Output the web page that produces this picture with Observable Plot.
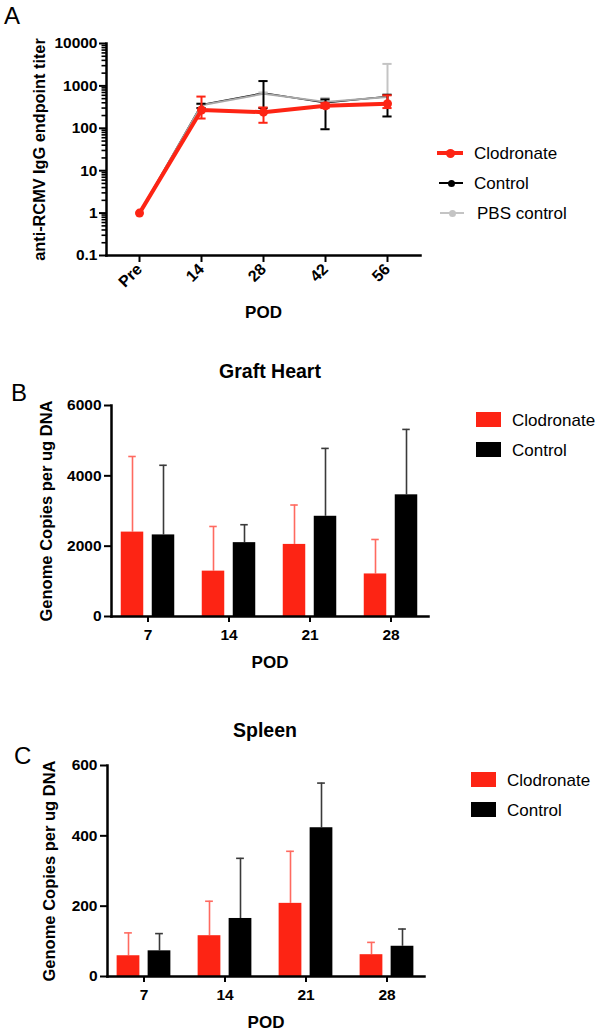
<!DOCTYPE html>
<html><head><meta charset="utf-8">
<script src="https://cdn.jsdelivr.net/npm/d3@7"></script>
<script src="https://cdn.jsdelivr.net/npm/@observablehq/plot@0.6"></script>
<style>
body{margin:0;background:#fff;}
#root{position:relative;width:600px;height:1034px;font-family:"Liberation Sans",Arial,Helvetica,sans-serif;overflow:hidden;background:#fff}
.panel{position:absolute;left:0;width:600px}
.panel svg{max-width:none;}
.abs{position:absolute;white-space:nowrap;color:#000;line-height:1}
.ctr{transform:translate(-50%,-50%)}
.mid{transform:translateY(-50%)}
.letter{font-size:24px}
.title{font-size:19.5px;font-weight:bold}
.leg{font-size:17px}
</style></head><body><div id="root"></div>
<script>
// ---------- Panel A data ----------
const podA = ["Pre", "14", "28", "42", "56"];
const clodA   = [1, 270, 240, 340, 380];
const clodALo = [null, 170, 135, 300, 300];
const clodAHi = [null, 560, 310, 390, 600];
const ctrlA   = [1, 360, 680, 400, 560];
const ctrlALo = [null, 300, 300, 95, 190];
const ctrlAHi = [null, 380, 1300, 480, 620];
const pbsA    = [1, 350, 650, 420, 550];
const pbsALo  = [null, 350, 650, 420, 550];
const pbsAHi  = [null, 370, 700, 520, 3300];
const yTicksA = [0.1, 1, 10, 100, 1000, 10000];
const seriesA = ["Clodronate", "Control", "PBS control"];

// ---------- Panel B data (Graft Heart) ----------
const podB = ["7", "14", "21", "28"];
const heartClod    = [2400, 1290, 2050, 1210];
const heartClodErr = [4550, 2560, 3170, 2190];
const heartCtrl    = [2320, 2100, 2850, 3460];
const heartCtrlErr = [4300, 2610, 4780, 5320];
const yTicksB = [0, 2000, 4000, 6000];

// ---------- Panel C data (Spleen) ----------
const spleenClod    = [59, 116, 208, 62];
const spleenClodErr = [124, 214, 356, 97];
const spleenCtrl    = [73, 165, 423, 86];
const spleenCtrlErr = [122, 336, 550, 135];
const yTicksC = [0, 200, 400, 600];
const seriesBar = ["Clodronate", "Control"];

// ---------- styles ----------
const RED = "#fd2414";
const RED_ERR = "#ff6a60";
const BLACK = "#000";
const BLACK_ERR = "#3a3a3a";
const GREY = "#a9a9a9";
const GREY_ERR = "#c4c4c4";
const FONT = "'Liberation Sans', Arial, Helvetica, sans-serif";

const root = document.getElementById("root");
function addPanel(svg, top) {
  const d = document.createElement("div");
  d.className = "panel";
  d.style.top = top + "px";
  d.appendChild(svg);
  root.appendChild(d);
}
function addText(txt, cls, x, y, extra) {
  const d = document.createElement("div");
  d.className = "abs " + cls;
  d.textContent = txt;
  d.style.left = x + "px";
  d.style.top = y + "px";
  if (extra) Object.assign(d.style, extra);
  root.appendChild(d);
  return d;
}
function addBox(x, y, w, h, bg, extra) {
  const d = document.createElement("div");
  d.className = "abs";
  Object.assign(d.style, {left: x + "px", top: y + "px", width: w + "px", height: h + "px", background: bg}, extra || {});
  root.appendChild(d);
}

// ================= Panel A =================
const rowsA = [];
podA.forEach((p, i) => {
  rowsA.push({series: "Control", pod: p, v: ctrlA[i], lo: ctrlALo[i], hi: ctrlAHi[i]});
  rowsA.push({series: "PBS control", pod: p, v: pbsA[i], lo: pbsALo[i], hi: pbsAHi[i]});
  rowsA.push({series: "Clodronate", pod: p, v: clodA[i], lo: clodALo[i], hi: clodAHi[i]});
});
const sA = s => rowsA.filter(d => d.series === s);
const eA = s => rowsA.filter(d => d.series === s && d.hi != null);
const minorA = d3.range(-1, 4).flatMap(e => d3.range(2, 10).map(k => +(k * Math.pow(10, e)).toPrecision(3)));
const xRangeA = [106, 420];
const bwA = (xRangeA[1] - xRangeA[0]) / podA.length;
const capA = (bwA - 10) / 2;

const plotA = Plot.plot({
  width: 600, height: 340,
  marginLeft: 106, marginRight: 180, marginTop: 43, marginBottom: 85,
  style: {fontFamily: FONT, fontSize: "15.5px", fontWeight: "bold", color: "#000", background: "transparent"},
  x: {type: "band", domain: podA, range: xRangeA, padding: 0},
  y: {type: "log", domain: [0.1, 10000]},
  marks: [
    Plot.axisY({ticks: yTicksA, tickFormat: d => String(d), tickSize: 7, tickPadding: 2, strokeWidth: 2, label: null}),
    Plot.axisY({ticks: minorA, tickFormat: () => "", tickSize: 4.5, strokeWidth: 1.6, label: null}),
    Plot.axisY({ticks: [], label: "anti-RCMV IgG endpoint titer", labelAnchor: "center", labelOffset: 73, labelArrow: "none", fontSize: 16.3}),
    Plot.axisX({tickRotate: -45, tickSize: 7, tickPadding: 4, strokeWidth: 2, label: null, fontSize: 16}),
    Plot.axisX({ticks: [], label: "POD", labelAnchor: "center", labelOffset: 62, labelArrow: "none", fontSize: 17}),
    Plot.frame({anchor: "left", strokeWidth: 2.5}),
    Plot.frame({anchor: "bottom", strokeWidth: 2.5}),
    // Control (black)
    Plot.line(sA("Control"), {x: "pod", y: "v", stroke: BLACK, strokeWidth: 1.5}),
    // PBS control (grey)
    Plot.line(sA("PBS control"), {x: "pod", y: "v", stroke: GREY, strokeWidth: 2}),
    Plot.ruleX(eA("PBS control"), {x: "pod", y1: "lo", y2: "hi", stroke: GREY_ERR, strokeWidth: 2}),
    Plot.tickY(eA("PBS control"), {x: "pod", y: "hi", stroke: GREY_ERR, strokeWidth: 2, insetLeft: capA, insetRight: capA}),
    Plot.ruleX(eA("Control"), {x: "pod", y1: "lo", y2: "hi", stroke: BLACK, strokeWidth: 2}),
    Plot.tickY(eA("Control"), {x: "pod", y: "hi", stroke: BLACK, strokeWidth: 2, insetLeft: capA, insetRight: capA}),
    Plot.tickY(eA("Control"), {x: "pod", y: "lo", stroke: BLACK, strokeWidth: 2, insetLeft: capA, insetRight: capA}),
    // Clodronate (red)
    Plot.line(sA("Clodronate"), {x: "pod", y: "v", stroke: RED, strokeWidth: 4}),
    Plot.ruleX(eA("Clodronate"), {x: "pod", y1: "lo", y2: "hi", stroke: RED, strokeWidth: 2}),
    Plot.tickY(eA("Clodronate"), {x: "pod", y: "hi", stroke: RED, strokeWidth: 2, insetLeft: capA, insetRight: capA}),
    Plot.tickY(eA("Clodronate"), {x: "pod", y: "lo", stroke: RED, strokeWidth: 2, insetLeft: capA, insetRight: capA}),
    Plot.dot(sA("Clodronate"), {x: "pod", y: "v", r: 4.5, fill: RED, stroke: "none"})
  ]
});
addPanel(plotA, 0);

// ================= Bar panels =================
const OFF = 15.5, BARW = 23, CAPW = 8;
function barPanel({pods, clod, clodErr, ctrl, ctrlErr, yDomain, yTicks, xRange, marginLeft, marginRight, marginTop, height, yLabelOffset}) {
  const rows = pods.flatMap((p, i) => [
    {pod: p, s: "Clodronate", v: clod[i], e: clodErr[i]},
    {pod: p, s: "Control", v: ctrl[i], e: ctrlErr[i]}
  ]);
  const R = rows.filter(d => d.s === "Clodronate");
  const K = rows.filter(d => d.s === "Control");
  const bw = (xRange[1] - xRange[0]) / pods.length;
  const bi = (bw - BARW) / 2, ci = (bw - CAPW) / 2;
  const marginBottom = height - marginTop - 211;
  return Plot.plot({
    width: 600, height,
    marginLeft, marginRight, marginTop, marginBottom,
    style: {fontFamily: FONT, fontSize: "15.5px", fontWeight: "bold", color: "#000", background: "transparent"},
    x: {type: "band", domain: pods, range: xRange, padding: 0},
    y: {domain: yDomain},
    marks: [
      Plot.axisY({ticks: yTicks, tickFormat: d => String(d), tickSize: 7, tickPadding: 3, strokeWidth: 2, label: null}),
      Plot.axisY({ticks: [], label: "Genome Copies per ug DNA", labelAnchor: "center", labelOffset: yLabelOffset, labelArrow: "none", fontSize: 16.5}),
      Plot.axisX({tickSize: 6, tickPadding: 6, strokeWidth: 2, label: null}),
      Plot.axisX({ticks: [], label: "POD", labelAnchor: "center", labelOffset: 51, labelArrow: "none", fontSize: 17}),
      Plot.ruleX(R, {x: "pod", y1: "v", y2: "e", stroke: RED_ERR, strokeWidth: 1.6, dx: -OFF}),
      Plot.tickY(R, {x: "pod", y: "e", stroke: RED_ERR, strokeWidth: 1.6, dx: -OFF, insetLeft: ci, insetRight: ci}),
      Plot.ruleX(K, {x: "pod", y1: "v", y2: "e", stroke: BLACK_ERR, strokeWidth: 1.6, dx: OFF}),
      Plot.tickY(K, {x: "pod", y: "e", stroke: BLACK_ERR, strokeWidth: 1.6, dx: OFF, insetLeft: ci, insetRight: ci}),
      Plot.barY(R, {x: "pod", y: "v", fill: RED, dx: -OFF, insetLeft: bi, insetRight: bi}),
      Plot.barY(K, {x: "pod", y: "v", fill: BLACK, dx: OFF, insetLeft: bi, insetRight: bi}),
      Plot.frame({anchor: "left", strokeWidth: 2.5}),
      Plot.frame({anchor: "bottom", strokeWidth: 2.5})
    ]
  });
}

const plotB = barPanel({
  pods: podB, clod: heartClod, clodErr: heartClodErr, ctrl: heartCtrl, ctrlErr: heartCtrlErr,
  yDomain: [0, 6000], yTicks: yTicksB, xRange: [106.25, 432.25],
  marginLeft: 111, marginRight: 172, marginTop: 65, height: 340, yLabelOffset: 71
});
addPanel(plotB, 340);

const plotC = barPanel({
  pods: podB, clod: spleenClod, clodErr: spleenClodErr, ctrl: spleenCtrl, ctrlErr: spleenCtrlErr,
  yDomain: [0, 600], yTicks: yTicksC, xRange: [102.5, 427.5],
  marginLeft: 107, marginRight: 176, marginTop: 85, height: 354, yLabelOffset: 64
});
addPanel(plotC, 680);

// ================= Panel letters & titles =================
addText("A", "letter", 4, 4);
addText("B", "letter", 11, 381);
addText("C", "letter", 14, 744);
addText("Graft Heart", "title ctr", 270, 372);
addText("Spleen", "title ctr", 265, 731);

// ================= Legends =================
const legA = [
  {name: seriesA[0], y: 153, color: RED, lw: 4, r: 4.5, x0: 437, x1: 463, tx: 474},
  {name: seriesA[1], y: 183, color: BLACK, lw: 1.5, r: 3.5, x0: 439, x1: 463, tx: 474},
  {name: seriesA[2], y: 213, color: GREY_ERR, lw: 2, r: 3.5, x0: 440, x1: 464, tx: 477}
];
legA.forEach(l => {
  addBox(l.x0, l.y - l.lw / 2, l.x1 - l.x0, l.lw, l.color);
  const cx = (l.x0 + l.x1) / 2;
  addBox(cx - l.r, l.y - l.r, 2 * l.r, 2 * l.r, l.color, {borderRadius: "50%"});
  addText(l.name, "leg mid", l.tx, l.y);
});
[[RED, 412], [BLACK, 442]].forEach(([c, y], i) => {
  addBox(476, y, 25, 15, c);
  addText(seriesBar[i], "leg mid", 512, y + 8);
});
[[RED, 772], [BLACK, 802]].forEach(([c, y], i) => {
  addBox(471, y, 25, 15, c);
  addText(seriesBar[i], "leg mid", 507, y + 8);
});
</script></body></html>
